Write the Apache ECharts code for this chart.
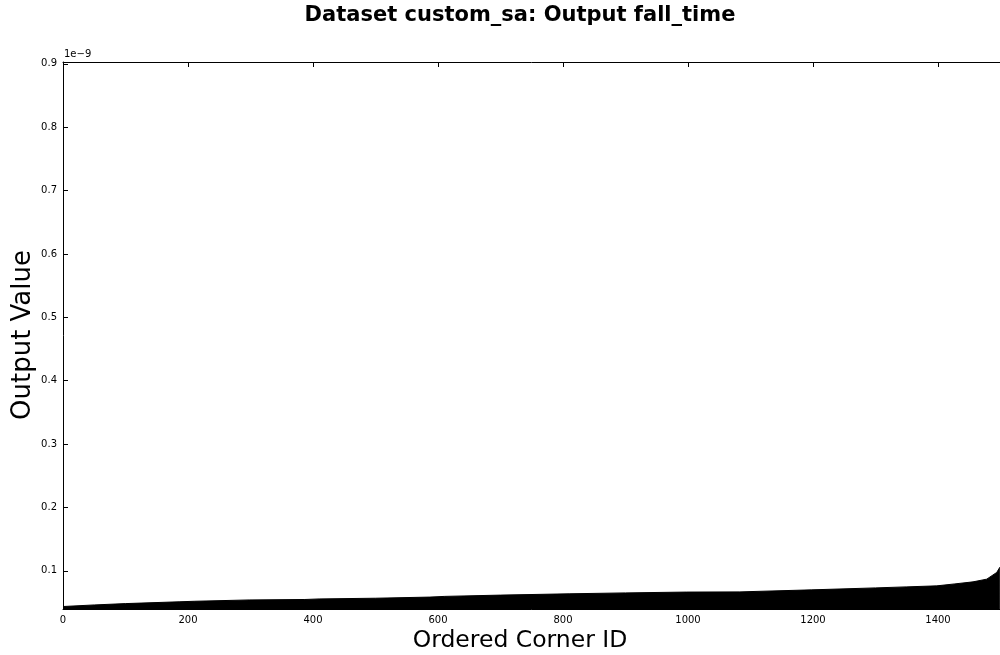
<!DOCTYPE html>
<html>
<head>
<meta charset="utf-8">
<title>Dataset custom_sa: Output fall_time</title>
<script src="https://cdn.jsdelivr.net/npm/echarts@6/dist/echarts.min.js"></script>
<style>
  html, body { margin: 0; padding: 0; background: #fff; }
  #chart { width: 1000px; height: 655px; }
</style>
</head>
<body>
<div id="chart"></div>
<script>
// Sorted fall_time per corner (values in units of 1e-9 s)
const cornerIds = [0, 50, 100, 187, 211, 299, 387, 411, 500, 587, 611, 700, 811, 900, 998, 1083, 1198, 1300, 1349, 1398, 1427, 1456, 1478, 1494, 1499];
const fallTimes = [0.0437, 0.0462, 0.0483, 0.0512, 0.0520, 0.0541, 0.0548, 0.0557, 0.0568, 0.0586, 0.0597, 0.0617, 0.0638, 0.0652, 0.0665, 0.0668, 0.0700, 0.0731, 0.0747, 0.0763, 0.0794, 0.0826, 0.0869, 0.0975, 0.1058];

const xTickValues = [0, 200, 400, 600, 800, 1000, 1200, 1400];
const yTickValues = [0.1, 0.2, 0.3, 0.4, 0.5, 0.6, 0.7, 0.8, 0.9];
const yRange = [0.039, 0.903];
// visible part of the corner axis (0.625 px per corner across the plot)
const xRange = [0, 1499.2];

const points = cornerIds.map((id, i) => [id, fallTimes[i]]);

const FONT = '"DejaVu Sans", "Liberation Sans", sans-serif';

const chart = echarts.init(document.getElementById('chart'), null, { renderer: 'canvas' });

const axisLineStyle = { show: true, lineStyle: { color: '#000', width: 1 } };
const tickStyle = { show: true, inside: true, length: 5, lineStyle: { color: '#000' } };

chart.setOption({
  animation: false,
  backgroundColor: '#fff',
  grid: { left: 63, top: 62, right: 0, height: 547.5, containLabel: false },
  xAxis: [
    {
      type: 'value',
      position: 'bottom',
      min: xRange[0], max: xRange[1],
      axisLine: axisLineStyle,
      axisTick: Object.assign({ customValues: xTickValues }, tickStyle),
      axisLabel: {
        show: true, color: '#000', fontFamily: FONT, fontSize: 10, margin: 6,
        customValues: xTickValues,
        formatter: v => String(Math.round(v))
      },
      splitLine: { show: false }
    },
    {
      type: 'value',
      position: 'top',
      min: xRange[0], max: xRange[1],
      axisLine: axisLineStyle,
      axisTick: Object.assign({ customValues: xTickValues }, tickStyle),
      axisLabel: { show: false },
      splitLine: { show: false }
    }
  ],
  yAxis: {
    type: 'value',
    min: yRange[0], max: yRange[1],
    axisLine: axisLineStyle,
    axisTick: Object.assign({ customValues: yTickValues }, tickStyle),
    axisLabel: {
      show: true, color: '#000', fontFamily: FONT, fontSize: 10, margin: 6,
      customValues: yTickValues,
      formatter: v => v.toFixed(1)
    },
    splitLine: { show: false }
  },
  series: [
    {
      type: 'line',
      xAxisIndex: 0,
      data: points,
      showSymbol: false,
      symbol: 'none',
      lineStyle: { color: '#000', width: 1 },
      areaStyle: { color: '#000', opacity: 1, origin: 'start' },
      z: 1
    }
  ],
  graphic: [
    {
      type: 'text', x: 520, y: 16,
      style: {
        text: 'Dataset custom_sa: Output fall_time',
        font: 'bold 21px ' + FONT, fill: '#000',
        textAlign: 'center', textVerticalAlign: 'middle'
      }
    },
    {
      type: 'text', x: 64, y: 49,
      style: { text: '1e\u22129', font: '10px ' + FONT, fill: '#000' }
    },
    {
      type: 'text', x: 520, y: 641,
      style: {
        text: 'Ordered Corner ID', font: '23.5px ' + FONT, fill: '#000',
        textAlign: 'center', textVerticalAlign: 'middle'
      }
    },
    {
      type: 'text', x: 23, y: 335, rotation: Math.PI / 2,
      style: {
        text: 'Output Value', font: '26px ' + FONT, fill: '#000',
        textAlign: 'center', textVerticalAlign: 'middle'
      }
    }
  ]
});
</script>
</body>
</html>
